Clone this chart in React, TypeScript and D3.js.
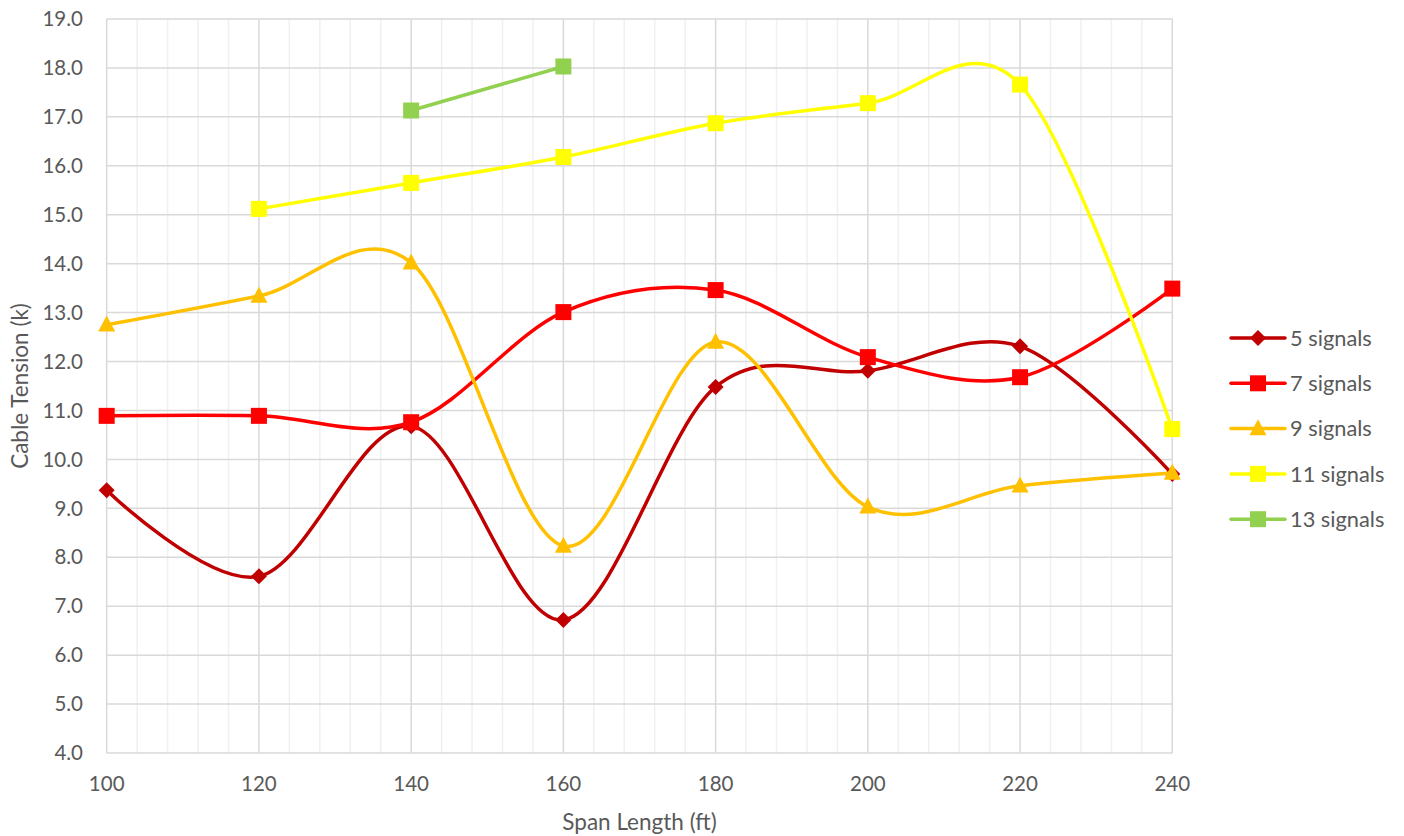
import React from "react";
import * as d3 from "d3";

const spans = [100, 120, 140, 160, 180, 200, 220, 240];
const seriesNames = ["5 signals", "7 signals", "9 signals", "11 signals", "13 signals"];
const signals5 = [9.37, 7.61, 10.68, 6.72, 11.48, 11.81, 12.31, 9.70];
const signals7 = [10.89, 10.89, 10.76, 13.01, 13.46, 12.09, 11.68, 13.49];
const signals9 = [12.75, 13.34, 14.02, 8.23, 12.40, 9.03, 9.46, 9.72];
const signals11 = [null, 15.12, 15.65, 16.18, 16.87, 17.28, 17.66, 10.62];
const signals13 = [null, null, 17.13, 18.03, null, null, null, null];
const seriesColors = ["#C00000", "#FF0000", "#FFC000", "#FFFF00", "#92D050"];
const seriesMarkers = ["diamond", "square", "triangle", "square", "square"];
const yTicks = d3.range(4, 19.01, 1);
const xMajorTicks = d3.range(100, 240.01, 20);
const xMinorTicks = d3.range(100, 240.01, 4);

const W = 1404;
const H = 836;
const plot = { left: 106.7, right: 1172.3, top: 19, bottom: 753 };
const FONT = "Lato, 'Open Sans', sans-serif";
const TEXT = "#595959";

function Marker({ type, x, y, color }: { type: string; x: number; y: number; color: string }) {
  if (type === "square") {
    const s = 16;
    return <rect x={x - s / 2} y={y - s / 2} width={s} height={s} fill={color} />;
  }
  if (type === "diamond") {
    const r = 8;
    return <path d={`M${x},${y - r}L${x + r},${y}L${x},${y + r}L${x - r},${y}Z`} fill={color} />;
  }
  const h = 16;
  const w = 17;
  return (
    <path
      d={`M${x},${y - h * 0.58}L${x + w / 2},${y + h * 0.42}L${x - w / 2},${y + h * 0.42}Z`}
      fill={color}
    />
  );
}

export default function App() {
  const x = d3.scaleLinear().domain([100, 240]).range([plot.left, plot.right]);
  const y = d3.scaleLinear().domain([4, 19]).range([plot.bottom, plot.top]);
  const allSeries = [signals5, signals7, signals9, signals11, signals13];

  const line = d3
    .line<[number, number | null]>()
    .defined((d) => d[1] !== null)
    .x((d) => x(d[0]))
    .y((d) => y(d[1] as number))
    .curve(d3.curveCardinal.tension(0));

  const legendX = 1231;
  const legendY0 = 338;
  const legendStep = 45.3;

  return (
    <svg
      width={W}
      height={H}
      style={{ position: "absolute", left: 0, top: 0, background: "#fff" }}
      fontFamily={FONT}
    >
      <rect width={W} height={H} fill="#fff" />
      {xMinorTicks
        .filter((t) => !xMajorTicks.includes(t))
        .map((t) => (
          <line key={"mn" + t} x1={x(t)} x2={x(t)} y1={plot.top} y2={plot.bottom} stroke="#F0F0F0" strokeWidth={1.5} />
        ))}
      {yTicks.map((t) => (
        <line key={"h" + t} x1={plot.left} x2={plot.right} y1={y(t)} y2={y(t)} stroke="#D9D9D9" strokeWidth={1.5} />
      ))}
      {xMajorTicks.map((t) => (
        <line key={"mj" + t} x1={x(t)} x2={x(t)} y1={plot.top} y2={plot.bottom} stroke="#D9D9D9" strokeWidth={1.5} />
      ))}
      {yTicks.map((t) => (
        <text key={"yl" + t} x={83} y={y(t)} dy="0.35em" textAnchor="end" fontSize={20.5} fill={TEXT}>
          {d3.format(".1f")(t)}
        </text>
      ))}
      {xMajorTicks.map((t) => (
        <text key={"xl" + t} x={x(t)} y={784} dy="0.35em" textAnchor="middle" fontSize={20.5} fill={TEXT}>
          {t}
        </text>
      ))}
      <text x={(plot.left + plot.right) / 2} y={822} dy="0.35em" textAnchor="middle" fontSize={22.5} fill={TEXT}>
        Span Length (ft)
      </text>
      <text
        transform={`translate(20,${(plot.top + plot.bottom) / 2}) rotate(-90)`}
        dy="0.35em"
        textAnchor="middle"
        fontSize={22.5}
        fill={TEXT}
      >
        Cable Tension (k)
      </text>
      {allSeries.map((vals, i) => {
        const pts = spans.map((s, j) => [s, vals[j]] as [number, number | null]);
        return (
          <g key={"s" + i}>
            <path d={line(pts) || ""} fill="none" stroke={seriesColors[i]} strokeWidth={3.5} strokeLinecap="round" />
            {pts
              .filter((p) => p[1] !== null)
              .map((p, j) => (
                <Marker key={j} type={seriesMarkers[i]} x={x(p[0])} y={y(p[1] as number)} color={seriesColors[i]} />
              ))}
          </g>
        );
      })}
      {seriesNames.map((name, i) => {
        const ly = legendY0 + i * legendStep;
        return (
          <g key={"lg" + i}>
            <line x1={legendX} x2={legendX + 54} y1={ly} y2={ly} stroke={seriesColors[i]} strokeWidth={3.5} strokeLinecap="round" />
            <Marker type={seriesMarkers[i]} x={legendX + 27} y={ly} color={seriesColors[i]} />
            <text x={1290} y={ly} dy="0.35em" fontSize={21.8} fill={TEXT}>
              {name}
            </text>
          </g>
        );
      })}
    </svg>
  );
}
